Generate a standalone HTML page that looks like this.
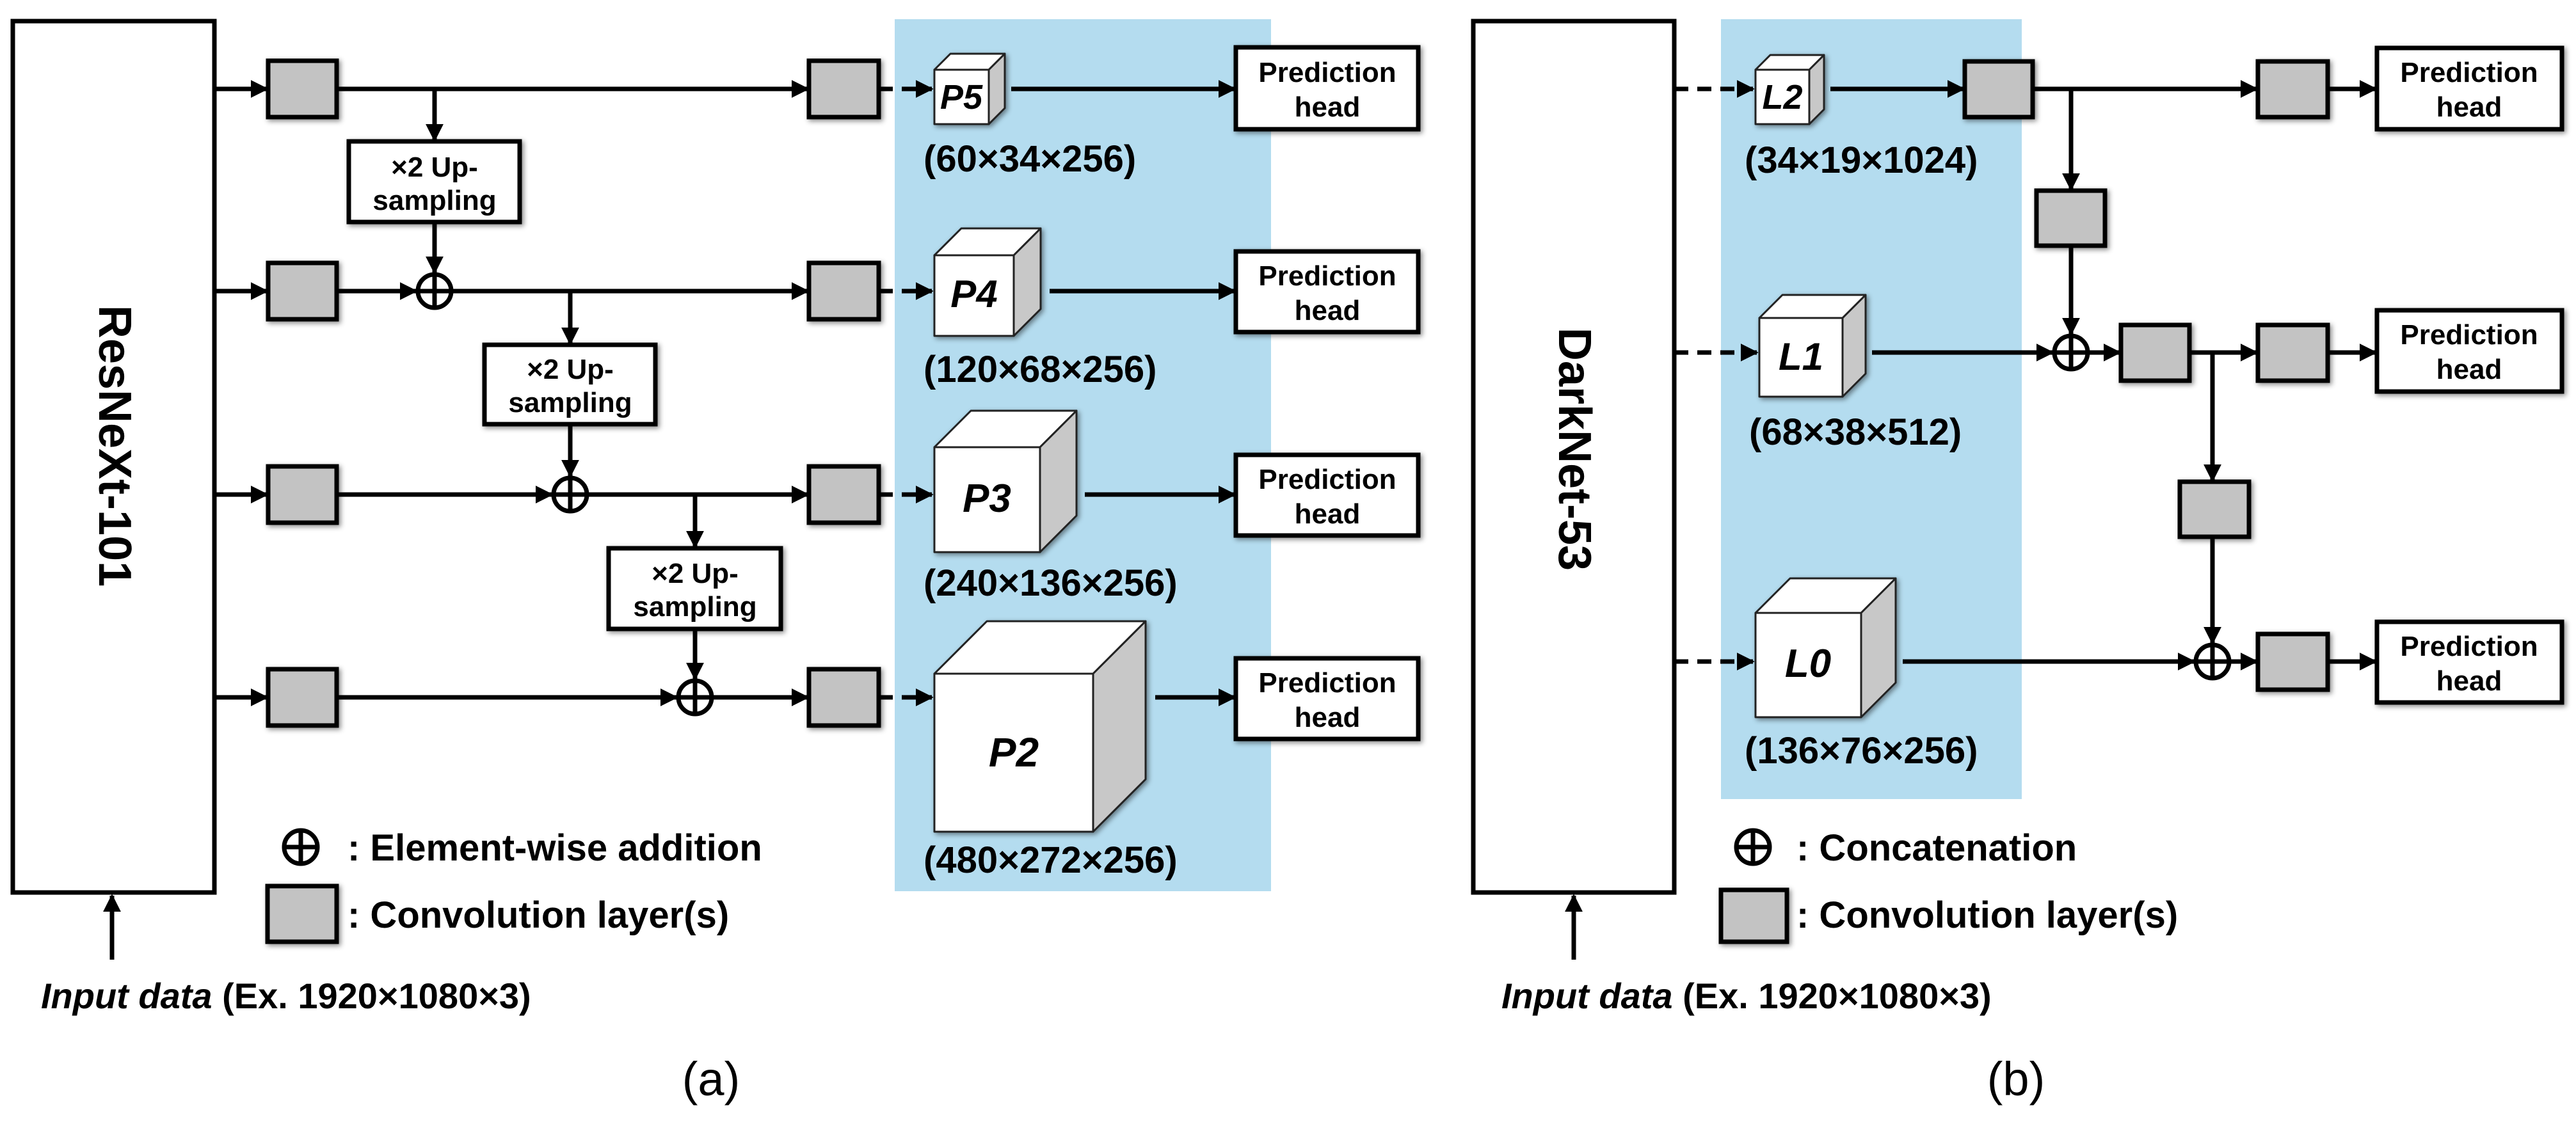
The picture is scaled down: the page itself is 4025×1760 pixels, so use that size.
<!DOCTYPE html>
<html><head><meta charset="utf-8"><style>
html,body{margin:0;padding:0;background:#fff}
svg{display:block}
text{font-family:"Liberation Sans",sans-serif;font-weight:bold;fill:#000}
</style></head><body>
<svg width="4025" height="1760" viewBox="0 0 4025 1760" xmlns="http://www.w3.org/2000/svg">
<defs>
<marker id="a" viewBox="0 0 10 10" refX="9" refY="5" markerWidth="4" markerHeight="4" orient="auto" markerUnits="strokeWidth"><path d="M0,0L10,5L0,10z" fill="#000"/></marker>
<filter id="s" x="-20%" y="-20%" width="140%" height="140%"><feDropShadow dx="3" dy="3" stdDeviation="4" flood-opacity="0.45"/></filter>
</defs>
<rect x="1398" y="30" width="588" height="1363" fill="#b4dcef"/>
<rect x="2689" y="30" width="470" height="1219" fill="#b4dcef"/>

<g stroke="#000" stroke-width="7" fill="none">
<rect x="20" y="33" width="315" height="1362" fill="#fff"/>
<rect x="2302" y="33" width="314" height="1362" fill="#fff"/>
</g>
<text transform="translate(155,697) rotate(90)" font-size="72" text-anchor="middle">ResNeXt-101</text>
<text transform="translate(2436,702) rotate(90)" font-size="72" text-anchor="middle">DarkNet-53</text>

<g stroke="#000" stroke-width="7" fill="none" marker-end="url(#a)">
<line x1="335" y1="139" x2="417" y2="139"/>
<line x1="335" y1="455" x2="417" y2="455"/>
<line x1="335" y1="773" x2="417" y2="773"/>
<line x1="335" y1="1090" x2="417" y2="1090"/>
<line x1="526" y1="139" x2="1262" y2="139"/>
<line x1="526" y1="455" x2="650" y2="455"/>
<line x1="706" y1="455" x2="1262" y2="455"/>
<line x1="526" y1="773" x2="862" y2="773"/>
<line x1="918" y1="773" x2="1262" y2="773"/>
<line x1="526" y1="1090" x2="1057" y2="1090"/>
<line x1="1114" y1="1090" x2="1262" y2="1090"/>
<line x1="679" y1="139" x2="679" y2="219"/>
<line x1="679" y1="347" x2="679" y2="426"/>
<line x1="891" y1="455" x2="891" y2="537"/>
<line x1="891" y1="663" x2="891" y2="744"/>
<line x1="1086" y1="773" x2="1086" y2="855"/>
<line x1="1086" y1="983" x2="1086" y2="1061"/>
<line x1="1373" y1="139" x2="1456" y2="139" stroke-dasharray="22,14"/>
<line x1="1373" y1="455" x2="1456" y2="455" stroke-dasharray="22,14"/>
<line x1="1373" y1="773" x2="1456" y2="773" stroke-dasharray="22,14"/>
<line x1="1373" y1="1090" x2="1456" y2="1090" stroke-dasharray="22,14"/>
<line x1="1580" y1="139" x2="1929" y2="139"/>
<line x1="1640" y1="455" x2="1929" y2="455"/>
<line x1="1695" y1="773" x2="1929" y2="773"/>
<line x1="1805" y1="1090" x2="1929" y2="1090"/>
<line x1="175" y1="1500" x2="175" y2="1400"/>
<line x1="2616" y1="139" x2="2739" y2="139" stroke-dasharray="22,14"/>
<line x1="2616" y1="551" x2="2745" y2="551" stroke-dasharray="22,14"/>
<line x1="2616" y1="1034" x2="2739" y2="1034" stroke-dasharray="22,14"/>
<line x1="2860" y1="139" x2="3068" y2="139"/>
<line x1="3176" y1="139" x2="3526" y2="139"/>
<line x1="3637" y1="139" x2="3712" y2="139"/>
<line x1="3236" y1="139" x2="3236" y2="296"/>
<line x1="3236" y1="384" x2="3236" y2="522"/>
<line x1="2925" y1="551" x2="3207" y2="551"/>
<line x1="3264" y1="551" x2="3312" y2="551"/>
<line x1="3421" y1="551" x2="3526" y2="551"/>
<line x1="3637" y1="551" x2="3712" y2="551"/>
<line x1="3457" y1="551" x2="3457" y2="751"/>
<line x1="3457" y1="839" x2="3457" y2="1005"/>
<line x1="2973" y1="1034" x2="3428" y2="1034"/>
<line x1="3485" y1="1034" x2="3526" y2="1034"/>
<line x1="3637" y1="1034" x2="3712" y2="1034"/>
<line x1="2459" y1="1500" x2="2459" y2="1400"/>
</g>

<g fill="#c3c3c3" stroke="#000" stroke-width="7" filter="url(#s)">
<rect x="419" y="95" width="107" height="88"/>
<rect x="419" y="411" width="107" height="88"/>
<rect x="419" y="729" width="107" height="88"/>
<rect x="419" y="1046" width="107" height="88"/>
<rect x="1264" y="95" width="109" height="88"/>
<rect x="1264" y="411" width="109" height="88"/>
<rect x="1264" y="729" width="109" height="88"/>
<rect x="1264" y="1046" width="109" height="88"/>
<rect x="418" y="1385" width="108" height="87"/>
<rect x="3070" y="96" width="106" height="87"/>
<rect x="3528" y="96" width="109" height="87"/>
<rect x="3182" y="298" width="107" height="86"/>
<rect x="3314" y="508" width="107" height="87"/>
<rect x="3528" y="508" width="109" height="87"/>
<rect x="3406" y="753" width="108" height="86"/>
<rect x="3528" y="991" width="109" height="87"/>
<rect x="2689" y="1391" width="103" height="81"/>
</g>

<g fill="#fff" stroke="#000" stroke-width="7" filter="url(#s)">
<rect x="545" y="221" width="267" height="126"/>
<rect x="757" y="539" width="267" height="124"/>
<rect x="951" y="857" width="269" height="126"/>
<rect x="1931" y="74" width="285" height="128"/>
<rect x="1931" y="393" width="285" height="126"/>
<rect x="1931" y="711" width="285" height="126"/>
<rect x="1931" y="1029" width="285" height="126"/>
<rect x="3714" y="75" width="289" height="127"/>
<rect x="3714" y="485" width="289" height="127"/>
<rect x="3714" y="972" width="289" height="126"/>
</g>
<g font-size="44" text-anchor="middle">
<text x="679" y="276">×2 Up-</text><text x="679" y="328">sampling</text>
<text x="891" y="592">×2 Up-</text><text x="891" y="644">sampling</text>
<text x="1086" y="911">×2 Up-</text><text x="1086" y="963">sampling</text>
<text x="2074" y="128">Prediction</text><text x="2074" y="182">head</text>
<text x="2074" y="446">Prediction</text><text x="2074" y="500">head</text>
<text x="2074" y="764">Prediction</text><text x="2074" y="818">head</text>
<text x="2074" y="1082">Prediction</text><text x="2074" y="1136">head</text>
<text x="3858" y="128">Prediction</text><text x="3858" y="182">head</text>
<text x="3858" y="538">Prediction</text><text x="3858" y="592">head</text>
<text x="3858" y="1025">Prediction</text><text x="3858" y="1079">head</text>
</g>

<g fill="#fff" stroke="#000" stroke-width="7">
<g transform="translate(679,455)"><circle r="26"/><path d="M-26,0H26M0,-26V26"/></g>
<g transform="translate(891,773)"><circle r="26"/><path d="M-26,0H26M0,-26V26"/></g>
<g transform="translate(1086,1090)"><circle r="26"/><path d="M-26,0H26M0,-26V26"/></g>
<g transform="translate(470,1324)"><circle r="26"/><path d="M-26,0H26M0,-26V26"/></g>
<g transform="translate(3236,551)"><circle r="26"/><path d="M-26,0H26M0,-26V26"/></g>
<g transform="translate(3457,1034)"><circle r="26"/><path d="M-26,0H26M0,-26V26"/></g>
<g transform="translate(2739,1324)"><circle r="26"/><path d="M-26,0H26M0,-26V26"/></g>
</g>

<g stroke="#222" stroke-width="3" stroke-linejoin="round" filter="url(#s)">
<g><rect x="1460" y="109" width="85" height="85" fill="#fff"/><path d="M1460,109L1485,84H1570L1545,109Z" fill="#fff"/><path d="M1545,109L1570,84V169L1545,194Z" fill="#c8c8c8"/></g>
<g><rect x="1460" y="399" width="124" height="126" fill="#fff"/><path d="M1460,399L1502,357H1626L1584,399Z" fill="#fff"/><path d="M1584,399L1626,357V483L1584,525Z" fill="#c8c8c8"/></g>
<g><rect x="1460" y="699" width="165" height="164" fill="#fff"/><path d="M1460,699L1517,642H1682L1625,699Z" fill="#fff"/><path d="M1625,699L1682,642V806L1625,863Z" fill="#c8c8c8"/></g>
<g><rect x="1460" y="1053" width="248" height="247" fill="#fff"/><path d="M1460,1053L1542,971H1790L1708,1053Z" fill="#fff"/><path d="M1708,1053L1790,971V1218L1708,1300Z" fill="#c8c8c8"/></g>
<g><rect x="2743" y="109" width="84" height="85" fill="#fff"/><path d="M2743,109L2766,86H2850L2827,109Z" fill="#fff"/><path d="M2827,109L2850,86V171L2827,194Z" fill="#c8c8c8"/></g>
<g><rect x="2749" y="497" width="130" height="123" fill="#fff"/><path d="M2749,497L2785,461H2915L2879,497Z" fill="#fff"/><path d="M2879,497L2915,461V584L2879,620Z" fill="#c8c8c8"/></g>
<g><rect x="2743" y="958" width="165" height="163" fill="#fff"/><path d="M2743,958L2797,904H2962L2908,958Z" fill="#fff"/><path d="M2908,958L2962,904V1067L2908,1121Z" fill="#c8c8c8"/></g>
</g>
<g font-style="italic" text-anchor="middle">
<text x="1502" y="170" font-size="54">P5</text>
<text x="1522" y="480" font-size="60">P4</text>
<text x="1542" y="800" font-size="62">P3</text>
<text x="1584" y="1198" font-size="64">P2</text>
<text x="2785" y="170" font-size="54">L2</text>
<text x="2814" y="578" font-size="60">L1</text>
<text x="2825" y="1058" font-size="62">L0</text>
</g>
<g font-size="58">
<text x="1443" y="268">(60×34×256)</text>
<text x="1443" y="597">(120×68×256)</text>
<text x="1443" y="931">(240×136×256)</text>
<text x="1443" y="1364">(480×272×256)</text>
<text x="2726" y="270">(34×19×1024)</text>
<text x="2733" y="695">(68×38×512)</text>
<text x="2726" y="1193">(136×76×256)</text>
<text x="543" y="1345">: Element-wise addition</text>
<text x="543" y="1450">: Convolution layer(s)</text>
<text x="2807" y="1345">: Concatenation</text>
<text x="2807" y="1450">: Convolution layer(s)</text>
<text x="64" y="1576" font-size="56"><tspan font-style="italic">Input data</tspan> (Ex. 1920×1080×3)</text>
<text x="2346" y="1576" font-size="56"><tspan font-style="italic">Input data</tspan> (Ex. 1920×1080×3)</text>
</g>
<text x="1111" y="1712" font-size="74" text-anchor="middle" style="font-weight:normal">(a)</text>
<text x="3150" y="1712" font-size="74" text-anchor="middle" style="font-weight:normal">(b)</text>
</svg>
</body></html>
